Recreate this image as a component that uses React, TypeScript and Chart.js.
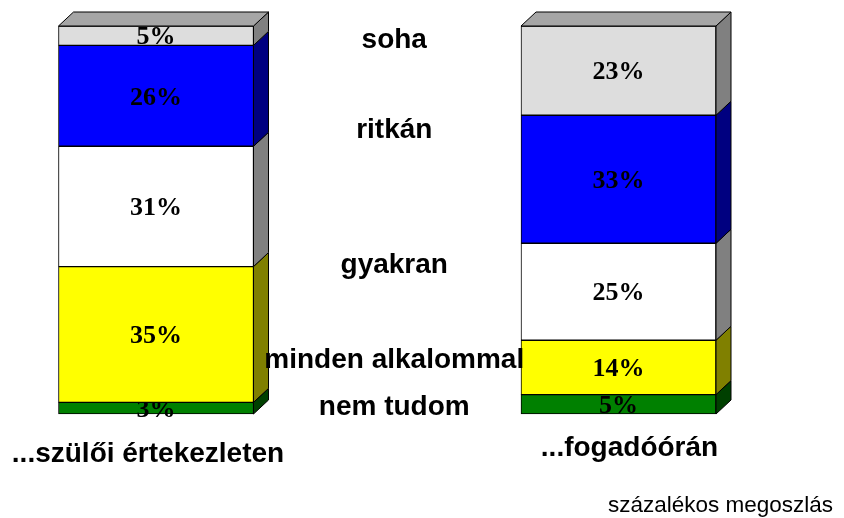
import React, { useEffect, useRef } from 'react';
import { Chart, registerables } from 'chart.js';

Chart.register(...registerables);

// ---- data ----
const categories = ['...szülői értekezleten', '...fogadóórán'];
const seriesNames = ['nem tudom', 'minden alkalommal', 'gyakran', 'ritkán', 'soha'];
const nemTudom = [3, 5];
const mindenAlkalommal = [35, 14];
const gyakran = [31, 25];
const ritkan = [26, 33];
const soha = [5, 23];
const footnote = 'százalékos megoszlás';

// ---- styles / layout ----
const frontColors = ['#008000', '#ffff00', '#ffffff', '#0000ff', '#dddddd'];
const sideColors = ['#004000', '#808000', '#808080', '#000080', '#808080'];
const topColor = '#a6a6a6';
const seriesLabelAt = [1.8, 13.9, 38.4, 73.2, 96.2]; // value-space y of the series captions
const categoryLabelShift = [-8, 11];
const categoryLabelDrop = [48, 42];
const DEPTH_X = 15;
const DEPTH_Y = 14;

const depthPlugin = {
  id: 'depth3d',
  afterDatasetsDraw(chart: any) {
    const ctx = chart.ctx as CanvasRenderingContext2D;
    const n = chart.data.datasets.length;
    const yScale = chart.scales.y;
    ctx.save();
    ctx.lineWidth = 1;
    ctx.strokeStyle = '#000';
    const segs: any[] = [];
    for (let d = 0; d < n; d++) {
      const meta = chart.getDatasetMeta(d);
      meta.data.forEach((bar: any, j: number) => {
        const p = bar.getProps(['x', 'y', 'base', 'width'], true);
        const l = p.x - p.width / 2;
        const r = p.x + p.width / 2;
        const top = Math.min(p.y, p.base);
        const bot = Math.max(p.y, p.base);
        segs.push({ d, j, l, r, top, bot, x: p.x });
        // side face
        ctx.beginPath();
        ctx.moveTo(r, top);
        ctx.lineTo(r + DEPTH_X, top - DEPTH_Y);
        ctx.lineTo(r + DEPTH_X, bot - DEPTH_Y);
        ctx.lineTo(r, bot);
        ctx.closePath();
        ctx.fillStyle = sideColors[d];
        ctx.fill();
        ctx.stroke();
        if (d === n - 1) {
          ctx.beginPath();
          ctx.moveTo(l, top);
          ctx.lineTo(l + DEPTH_X, top - DEPTH_Y);
          ctx.lineTo(r + DEPTH_X, top - DEPTH_Y);
          ctx.lineTo(r, top);
          ctx.closePath();
          ctx.fillStyle = topColor;
          ctx.fill();
          ctx.stroke();
        }
      });
    }
    // value labels
    ctx.font = 'bold 26px "Liberation Serif", "Times New Roman", serif';
    ctx.textAlign = 'center';
    ctx.textBaseline = 'middle';
    ctx.fillStyle = '#000';
    segs.forEach((s) => {
      const v = chart.data.datasets[s.d].data[s.j];
      ctx.save();
      ctx.beginPath();
      const cy0 = s.d === n - 1 ? 0 : s.top;
      const cy1 = s.d === 0 ? chart.height : s.bot;
      ctx.rect(s.l - 20, cy0, s.r - s.l + 40, cy1 - cy0);
      ctx.clip();
      ctx.fillText(v + '%', s.x, (s.top + s.bot) / 2 + 2);
      ctx.restore();
    });
    // series captions between bars
    const b0 = segs.find((s) => s.j === 0);
    const b1 = segs.find((s) => s.j === 1);
    const midX = (b0.r + b1.l) / 2 + 7;
    ctx.font = 'bold 28px "Liberation Sans", Arial, sans-serif';
    for (let d = 0; d < n; d++) {
      ctx.fillText(chart.data.datasets[d].label, midX, yScale.getPixelForValue(seriesLabelAt[d]));
    }
    // category labels
    ctx.textBaseline = 'alphabetic';
    const base = yScale.getPixelForValue(0);
    chart.data.labels.forEach((lab: string, j: number) => {
      const s = segs.find((q) => q.j === j);
      ctx.fillText(lab, s.x + categoryLabelShift[j], base + categoryLabelDrop[j]);
    });
    // footnote
    ctx.font = '22.5px "Liberation Sans", Arial, sans-serif';
    ctx.textAlign = 'right';
    ctx.fillText(footnote, chart.width - 11, chart.height - 6);
    ctx.restore();
  },
};

export default function App() {
  const ref = useRef<HTMLCanvasElement | null>(null);
  useEffect(() => {
    if (!ref.current) return;
    const series = [nemTudom, mindenAlkalommal, gyakran, ritkan, soha];
    const chart = new Chart(ref.current, {
      type: 'bar',
      data: {
        labels: categories,
        datasets: series.map((vals, i) => ({
          label: seriesNames[i],
          data: vals,
          backgroundColor: frontColors[i],
          borderColor: '#000',
          borderWidth: 1,
          borderSkipped: false,
          barThickness: 195,
          clip: false as any,
        })),
      },
      options: {
        animation: false,
        responsive: false,
        events: [],
        layout: { padding: { left: 156, right: 225.5, top: 26, bottom: 104 } },
        plugins: { legend: { display: false }, tooltip: { enabled: false } },
        scales: {
          x: { stacked: true, offset: false, display: false },
          y: { stacked: true, min: 0, max: 100, display: false },
        },
      },
      plugins: [depthPlugin],
    });
    return () => chart.destroy();
  }, []);
  return (
    <div style={{ position: 'absolute', left: 0, top: 0, width: 844, height: 518, background: '#fff' }}>
      <canvas ref={ref} width={844} height={518} style={{ display: 'block' }} />
    </div>
  );
}
